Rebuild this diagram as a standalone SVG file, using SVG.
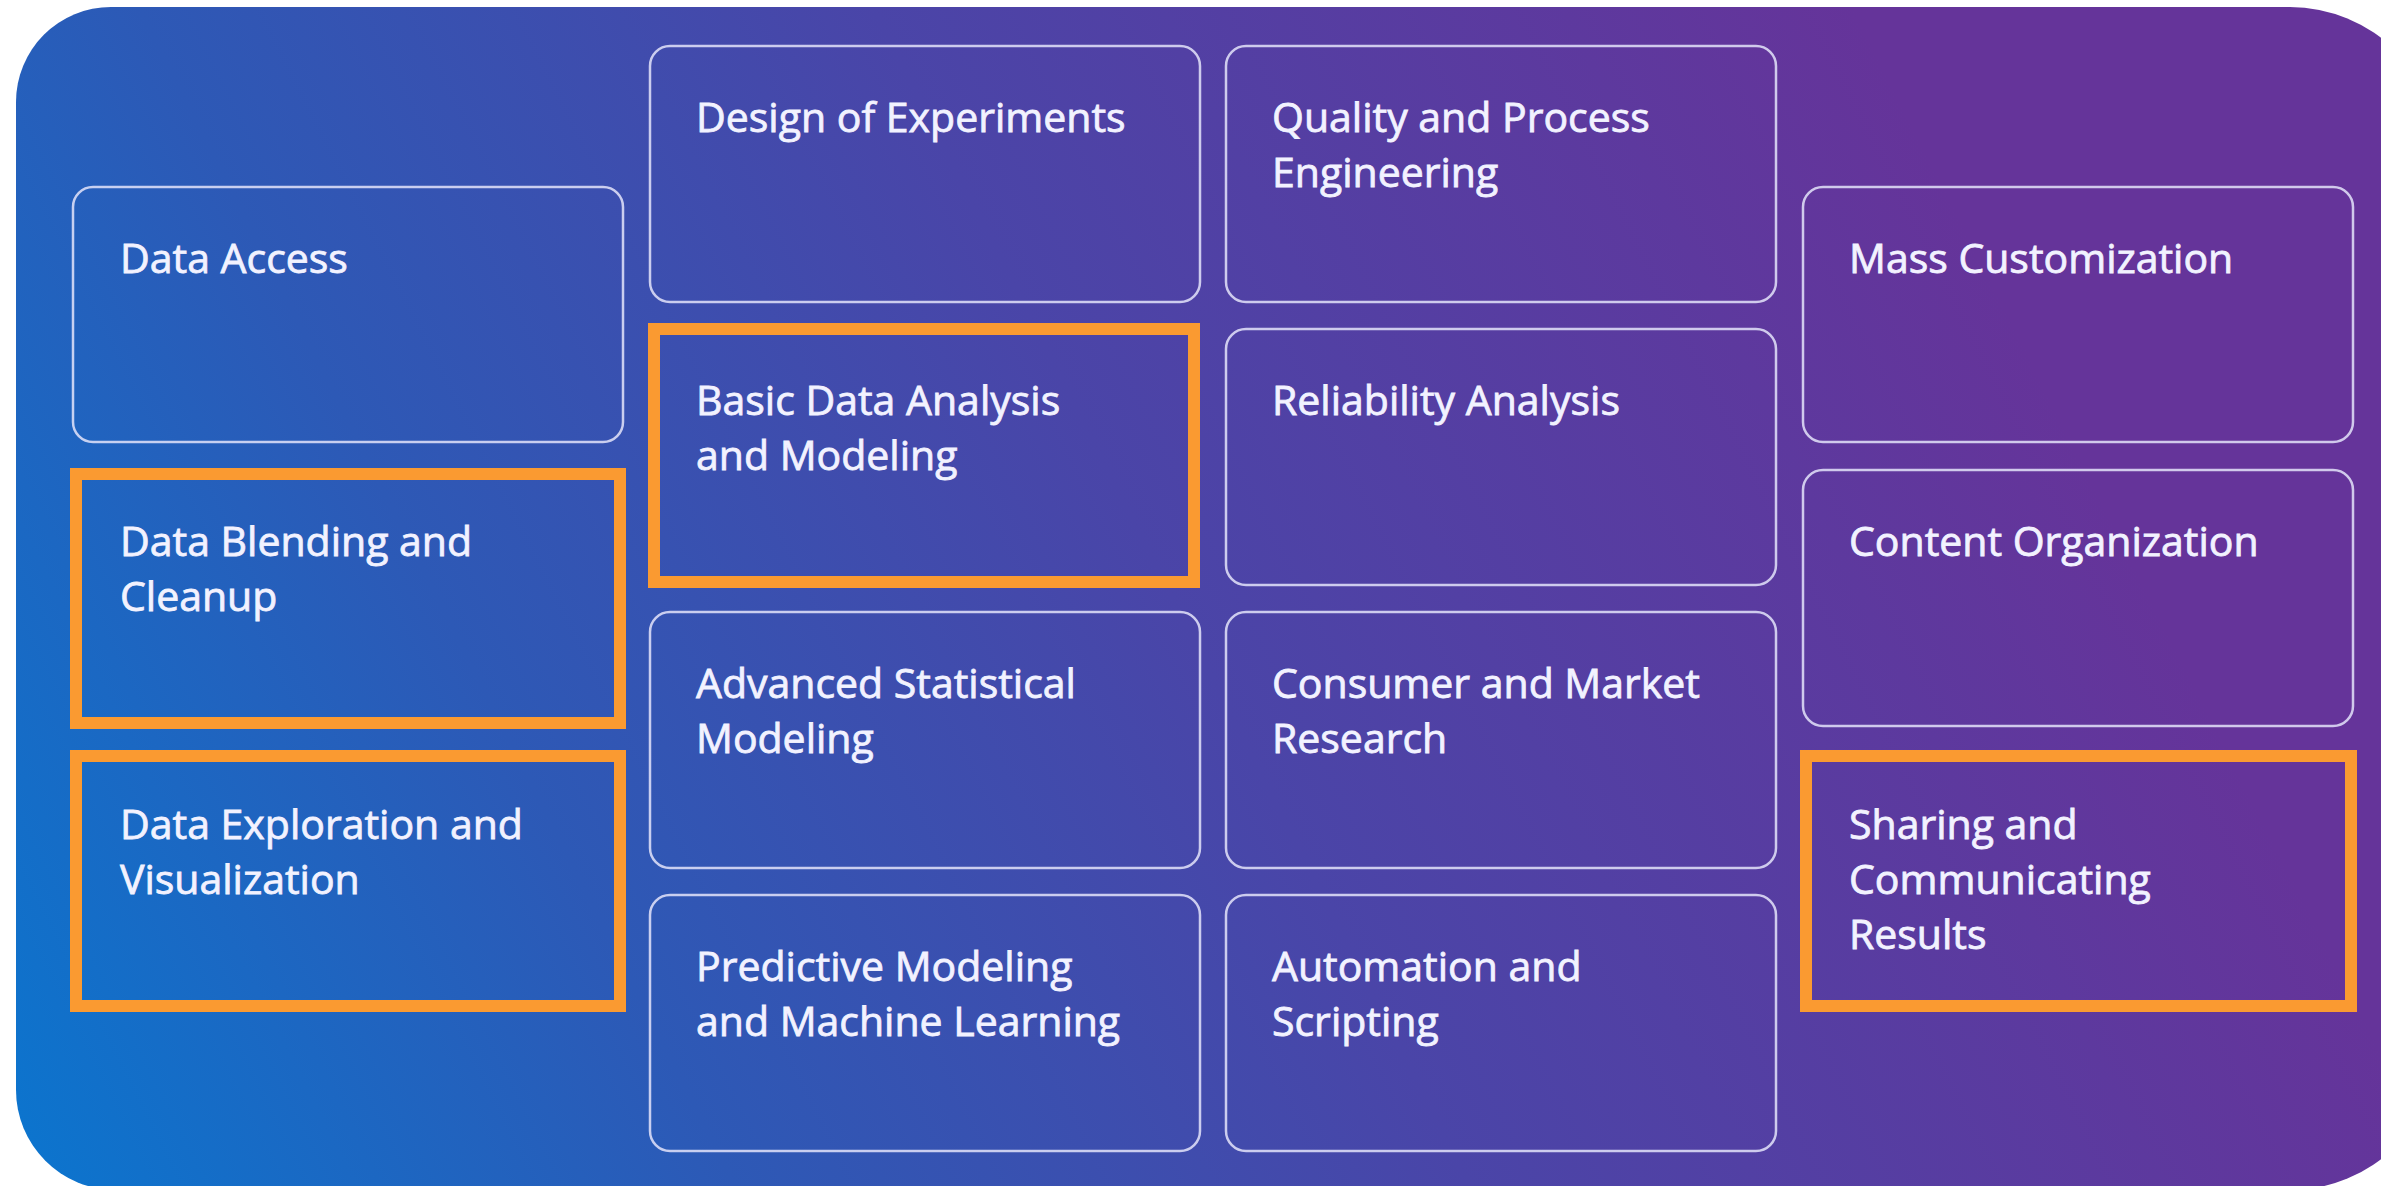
<svg xmlns="http://www.w3.org/2000/svg" width="2381" height="1186" viewBox="0 0 2381 1186">
<defs>
<linearGradient id="bg" gradientUnits="userSpaceOnUse" x1="0" y1="1186" x2="1950" y2="200">
<stop offset="0" stop-color="#0A76CF"/>
<stop offset="0.3" stop-color="#2D59B6"/>
<stop offset="0.6" stop-color="#4A45A8"/>
<stop offset="1" stop-color="#65349A"/>
</linearGradient>
<style>
.box{fill:none;stroke:#E4E4FA;stroke-opacity:0.85;stroke-width:2.5}
.hl{fill:none;stroke:#FA9A31;stroke-width:12}
.t{font-family:"Open Sans","Liberation Sans",sans-serif;font-size:41px;font-weight:500;fill:#F2F2FF;stroke:#F2F2FF;stroke-width:0.8}
</style>
</defs>
<rect width="2381" height="1186" fill="#FFFFFF"/>
<path d="M111,7 H2290 A150,150 0 0 1 2440,157 V1040 A150,150 0 0 1 2290,1190 H116 A100,100 0 0 1 16,1090 V102 A95,95 0 0 1 111,7 Z" fill="url(#bg)"/>

<g id="data-access"><rect class="box" x="73" y="187" width="550" height="255" rx="20"/><text class="t" x="120" y="273">Data Access</text></g>
<g id="data-blending"><rect class="hl" x="76" y="474" width="544" height="249"/><text class="t" x="120" y="556">Data Blending and</text><text class="t" x="120" y="611">Cleanup</text></g>
<g id="data-exploration"><rect class="hl" x="76" y="756" width="544" height="250"/><text class="t" x="120" y="839">Data Exploration and</text><text class="t" x="120" y="894">Visualization</text></g>

<g id="design-experiments"><rect class="box" x="650" y="46" width="550" height="256" rx="20"/><text class="t" x="696" y="132">Design of Experiments</text></g>
<g id="basic-analysis"><rect class="hl" x="654" y="329" width="540" height="253"/><text class="t" x="696" y="415">Basic Data Analysis</text><text class="t" x="696" y="470">and Modeling</text></g>
<g id="advanced-statistical"><rect class="box" x="650" y="612" width="550" height="256" rx="20"/><text class="t" x="696" y="698">Advanced Statistical</text><text class="t" x="696" y="753">Modeling</text></g>
<g id="predictive-modeling"><rect class="box" x="650" y="895" width="550" height="256" rx="20"/><text class="t" x="696" y="981">Predictive Modeling</text><text class="t" x="696" y="1036">and Machine Learning</text></g>

<g id="quality-process"><rect class="box" x="1226" y="46" width="550" height="256" rx="20"/><text class="t" x="1272" y="132">Quality and Process</text><text class="t" x="1272" y="187">Engineering</text></g>
<g id="reliability"><rect class="box" x="1226" y="329" width="550" height="256" rx="20"/><text class="t" x="1272" y="415">Reliability Analysis</text></g>
<g id="consumer-market"><rect class="box" x="1226" y="612" width="550" height="256" rx="20"/><text class="t" x="1272" y="698">Consumer and Market</text><text class="t" x="1272" y="753">Research</text></g>
<g id="automation"><rect class="box" x="1226" y="895" width="550" height="256" rx="20"/><text class="t" x="1272" y="981">Automation and</text><text class="t" x="1272" y="1036">Scripting</text></g>

<g id="mass-customization"><rect class="box" x="1803" y="187" width="550" height="255" rx="20"/><text class="t" x="1849" y="273">Mass Customization</text></g>
<g id="content-organization"><rect class="box" x="1803" y="470" width="550" height="256" rx="20"/><text class="t" x="1849" y="556">Content Organization</text></g>
<g id="sharing-results"><rect class="hl" x="1806" y="756" width="545" height="250"/><text class="t" x="1849" y="839">Sharing and</text><text class="t" x="1849" y="894">Communicating</text><text class="t" x="1849" y="949">Results</text></g>

<g id="connectors"></g>
</svg>
